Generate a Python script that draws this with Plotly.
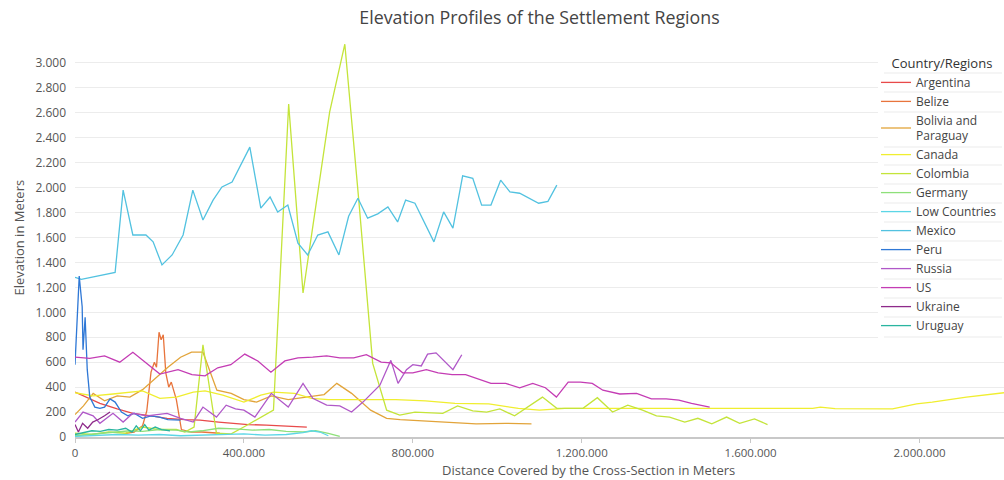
import plotly.graph_objects as go

# ---------------- data (distance in m, elevation in m) ----------------
argentina_x = [0, 30000, 59000, 100000, 137000, 180000, 218000, 260000, 296000, 340000, 374000, 410000, 453000, 500000, 549000]
argentina_y = [360, 315, 270, 225, 190, 170, 150, 140, 135, 120, 110, 100, 95, 88, 80]

belize_x = [120000, 140000, 160000, 170000, 180000, 188000, 193000, 199000, 204000, 209000, 215000, 222000, 228000, 240000, 252000, 275000, 300000, 343000]
belize_y = [30, 40, 90, 210, 520, 600, 560, 840, 780, 820, 515, 400, 440, 300, 60, 40, 40, 30]

bolivia_x = [0, 20000, 43000, 70000, 100000, 130000, 160000, 190000, 220000, 250000, 276000, 303000, 336000, 370000, 400000, 430000, 465000, 505000, 545000, 590000, 620000, 655000, 700000, 738000, 770000, 820000, 880000, 950000, 1020000, 1081000]
bolivia_y = [180, 250, 350, 290, 330, 320, 380, 470, 560, 640, 680, 680, 375, 350, 300, 280, 330, 300, 320, 340, 430, 350, 215, 150, 140, 130, 115, 105, 110, 105]

canada_x = [0, 43000, 90000, 160000, 201000, 240000, 280000, 308000, 350000, 400000, 440000, 470000, 520000, 560000, 600000, 650000, 700000, 760000, 830000, 900000, 980000, 1050000, 1100000, 1160000, 1250000, 1350000, 1450000, 1550000, 1650000, 1747000, 1765000, 1800000, 1936000, 1993000, 2030000, 2111000, 2200000]
canada_y = [355, 330, 345, 370, 310, 320, 360, 370, 335, 280, 335, 360, 350, 310, 300, 300, 305, 300, 290, 270, 265, 230, 215, 230, 230, 230, 230, 228, 230, 230, 240, 228, 225, 265, 280, 320, 355]

colombia_x = [0, 40000, 80000, 120000, 160000, 200000, 240000, 260000, 282000, 303000, 335000, 370000, 405000, 440000, 470000, 506000, 540000, 603000, 639000, 672000, 705000, 738000, 769000, 805000, 847000, 871000, 906000, 942000, 975000, 1006000, 1041000, 1073000, 1107000, 1141000, 1172000, 1203000, 1237000, 1273000, 1309000, 1344000, 1377000, 1408000, 1444000, 1475000, 1508000, 1543000, 1574000, 1609000, 1640000]
colombia_y = [30, 20, 40, 30, 80, 60, 60, 40, 80, 740, 30, 25, 90, 160, 215, 2670, 1155, 2605, 3150, 1900, 590, 215, 175, 200, 190, 190, 250, 210, 200, 225, 170, 240, 320, 230, 230, 230, 315, 200, 255, 215, 170, 160, 120, 150, 105, 160, 110, 145, 100]

germany_x = [0, 30000, 60000, 100000, 130000, 160000, 200000, 240000, 270000, 300000, 340000, 380000, 420000, 460000, 500000, 540000, 570000, 600000, 627000]
germany_y = [10, 20, 25, 40, 50, 45, 60, 55, 40, 50, 70, 65, 55, 60, 45, 40, 50, 30, 5]

lowc_x = [0, 50000, 100000, 150000, 200000, 250000, 300000, 350000, 400000, 450000, 500000, 540000, 560000, 580000, 600000]
lowc_y = [5, 10, 20, 15, 20, 10, 15, 20, 25, 15, 20, 35, 50, 40, 10]

mexico_x = [0, 15000, 95000, 114000, 137000, 168000, 185000, 206000, 230000, 256000, 279000, 303000, 327000, 348000, 372000, 393000, 414000, 440000, 462000, 480000, 504000, 528000, 551000, 575000, 599000, 625000, 648000, 670000, 693000, 717000, 741000, 764000, 783000, 805000, 831000, 850000, 873000, 895000, 918000, 942000, 963000, 985000, 1008000, 1030000, 1053000, 1077000, 1098000, 1120000, 1141000]
mexico_y = [1280, 1265, 1320, 1980, 1620, 1620, 1565, 1380, 1460, 1620, 1980, 1740, 1900, 2005, 2045, 2180, 2325, 1835, 1925, 1805, 1860, 1555, 1460, 1620, 1645, 1460, 1770, 1915, 1755, 1790, 1845, 1725, 1900, 1875, 1690, 1565, 1805, 1675, 2095, 2075, 1860, 1860, 2060, 1965, 1955, 1915, 1875, 1890, 2020]

peru_x = [0, 5000, 10000, 17000, 19000, 24000, 29000, 35000, 47000, 59000, 70000, 83000, 95000, 110000, 125000, 140000, 160000, 180000, 200000, 220000, 250000]
peru_y = [580, 1000, 1290, 1045, 700, 960, 540, 320, 240, 230, 240, 305, 280, 200, 170, 190, 150, 170, 160, 140, 135]

russia_x = [0, 19000, 43000, 59000, 90000, 114000, 137000, 170000, 218000, 250000, 280000, 303000, 335000, 358000, 380000, 400000, 426000, 465000, 505000, 540000, 563000, 596000, 627000, 655000, 682000, 722000, 748000, 765000, 785000, 800000, 820000, 835000, 855000, 895000, 916000]
russia_y = [120, 200, 170, 110, 190, 120, 190, 170, 190, 150, 120, 240, 160, 255, 225, 215, 160, 350, 240, 430, 310, 255, 250, 200, 280, 415, 615, 430, 540, 580, 570, 665, 675, 540, 660]

us_x = [0, 35000, 70000, 106000, 137000, 173000, 201000, 244000, 277000, 308000, 338000, 369000, 402000, 433000, 464000, 497000, 528000, 563000, 596000, 627000, 660000, 690000, 725000, 748000, 776000, 800000, 832000, 860000, 893000, 925000, 956000, 985000, 1020000, 1053000, 1084000, 1114000, 1140000, 1168000, 1197000, 1225000, 1250000, 1290000, 1330000, 1365000, 1400000, 1430000, 1460000, 1503000]
us_y = [640, 630, 650, 600, 680, 580, 505, 540, 500, 490, 555, 580, 665, 610, 520, 610, 635, 640, 650, 635, 635, 660, 600, 595, 515, 515, 540, 515, 500, 500, 465, 430, 430, 395, 430, 395, 320, 440, 440, 430, 375, 345, 350, 305, 305, 295, 270, 240]

ukraine_x = [0, 8000, 18000, 30000, 42000, 55000, 70000, 83000]
ukraine_y = [100, 40, 110, 70, 120, 140, 170, 200]

uruguay_x = [0, 20000, 40000, 60000, 80000, 100000, 120000, 135000, 145000, 155000, 165000, 175000, 190000, 205000, 225000]
uruguay_y = [20, 35, 50, 45, 60, 55, 70, 40, 90, 50, 100, 55, 80, 60, 50]

names = ["Argentina", "Belize", "Bolivia and<br>Paraguay", "Canada", "Colombia", "Germany",
         "Low Countries", "Mexico", "Peru", "Russia", "US", "Ukraine", "Uruguay"]
xs = [argentina_x, belize_x, bolivia_x, canada_x, colombia_x, germany_x,
      lowc_x, mexico_x, peru_x, russia_x, us_x, ukraine_x, uruguay_x]
ys = [argentina_y, belize_y, bolivia_y, canada_y, colombia_y, germany_y,
      lowc_y, mexico_y, peru_y, russia_y, us_y, ukraine_y, uruguay_y]
colors = ["#e84a4a", "#e8743c", "#e2a43a", "#f0ee30", "#c4e43a", "#8ee07a",
          "#5cd6e6", "#52c2e0", "#2f78d6", "#b058c8", "#c43cb4", "#8e2a8a", "#2ab5a0"]

# legend separator rows (pixel y in the page)
sep_rows = [73, 92, 112, 147, 165, 184, 203, 222, 241, 260, 279, 298, 317, 337]

FONT = "Open Sans, DejaVu Sans, sans-serif"
L, R, T, B = 75, 0, 38, 43
PW, PH = 1004 - L - R, 480 - T - B


def px2paper_x(p):
    return (p - L) / PW


def px2paper_y(p):
    return (480 - B - p) / PH


fig = go.Figure()
for n, x, y, c in zip(names, xs, ys, colors):
    fig.add_trace(go.Scatter(x=x, y=y, mode="lines", name=n,
                             line=dict(color=c, width=1.3)))

shapes = [dict(type="rect", xref="paper", yref="paper",
               x0=px2paper_x(878), x1=1.0, y0=px2paper_y(342), y1=px2paper_y(46),
               fillcolor="white", line=dict(width=0), layer="above")]
for r in sep_rows:
    shapes.append(dict(type="line", xref="paper", yref="paper",
                       x0=px2paper_x(884), x1=px2paper_x(1002),
                       y0=px2paper_y(r), y1=px2paper_y(r),
                       line=dict(color="#ebebeb", width=1), layer="above"))

fig.update_layout(
    width=1004, height=480,
    margin=dict(l=L, r=R, t=T, b=B),
    paper_bgcolor="white", plot_bgcolor="white",
    separators=",.",
    font=dict(family=FONT, size=11, color="#555555"),
    title=dict(text="Elevation Profiles of the Settlement Regions",
               x=(L + 1004) / 2 / 1004, xanchor="center", y=0.962, yanchor="middle",
               font=dict(size=17.8, color="#444444", family=FONT)),
    xaxis=dict(range=[0, 2200000], tickvals=[0, 400000, 800000, 1200000, 1600000, 2000000],
               tickformat=",d", showgrid=False, zeroline=False,
               showline=True, linecolor="#c8c8c8", linewidth=1.5,
               ticks="outside", ticklen=4, tickcolor="#c8c8c8",
               tickfont=dict(size=11.5, color="#555555")),
    yaxis=dict(range=[0, 3200], tickvals=list(range(0, 3001, 200)), tickformat=",d",
               showgrid=True, gridcolor="#ececec", gridwidth=1, zeroline=False,
               showline=False, ticks="", ticklabelstandoff=8,
               tickfont=dict(size=12, color="#555555")),
    legend=dict(x=px2paper_x(876), y=px2paper_y(51), xanchor="left", yanchor="top",
                bgcolor="rgba(0,0,0,0)", borderwidth=0,
                title=dict(text="&nbsp;&nbsp;&nbsp;&nbsp;Country/Regions", font=dict(size=13, color="#333333")),
                font=dict(size=12, color="#444444"), itemwidth=30, tracegroupgap=0),
    showlegend=True,
    shapes=shapes,
    annotations=[
        dict(text="Distance Covered by the Cross-Section in Meters", xref="paper", yref="paper",
             x=px2paper_x(588), y=px2paper_y(459), xanchor="center", yanchor="top", showarrow=False,
             font=dict(size=13, color="#555555")),
        dict(text="Elevation in Meters", xref="paper", yref="paper",
             x=px2paper_x(18), y=0.5, xanchor="center", yanchor="middle", textangle=-90, showarrow=False,
             font=dict(size=13, color="#555555")),
    ],
)

fig.write_html("out.html", config={"displayModeBar": False},
               post_script="document.body.style.margin='0';document.body.style.overflow='hidden';")
